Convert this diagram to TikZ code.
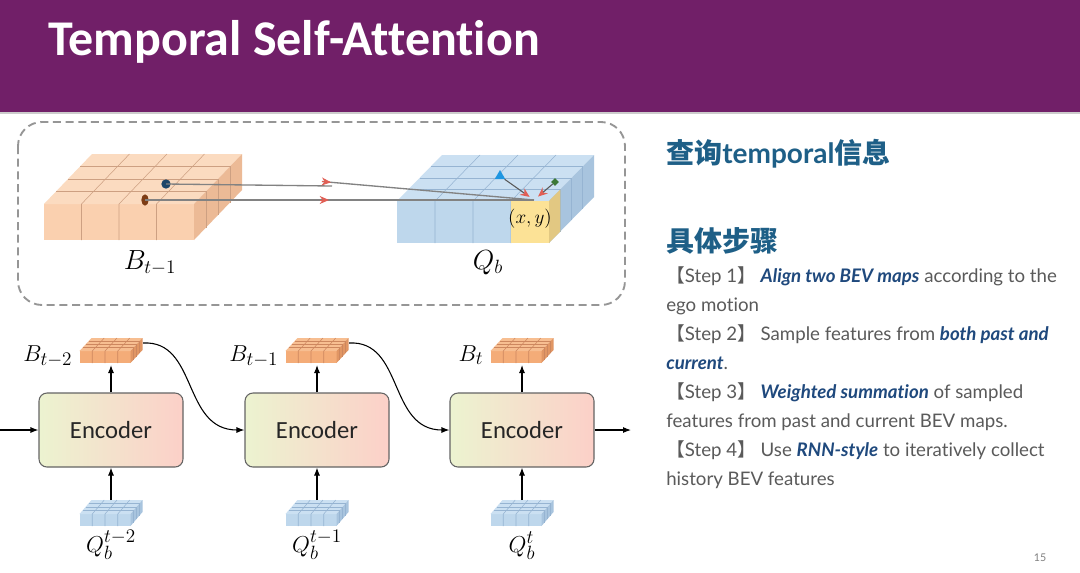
\documentclass[tikz,border=0pt]{standalone}
\usepackage{fontspec}
\setmainfont{Lato}[Ligatures={NoCommon}]
\newfontfamily\carlito{Carlito}[Ligatures={NoCommon}]
\newfontfamily\cjk{Noto Sans CJK SC}
\usetikzlibrary{arrows.meta,shapes.geometric,calc}

\definecolor{titlebar}{RGB}{113,31,104}
\definecolor{dashgray}{RGB}{150,150,150}
\definecolor{orfront}{RGB}{250,208,175}
\definecolor{ortop}{RGB}{251,219,192}
\definecolor{orside}{RGB}{236,186,150}
\definecolor{orgrid}{RGB}{205,160,130}
\definecolor{smfront}{RGB}{244,172,120}
\definecolor{smtop}{RGB}{247,190,145}
\definecolor{smside}{RGB}{225,150,100}
\definecolor{smgrid}{RGB}{205,135,95}
\definecolor{blfront}{RGB}{190,215,236}
\definecolor{bltop}{RGB}{203,224,242}
\definecolor{blside}{RGB}{168,196,222}
\definecolor{blgrid}{RGB}{150,180,210}
\definecolor{yfront}{RGB}{252,226,150}
\definecolor{yside}{RGB}{226,200,130}
\definecolor{encL}{RGB}{236,243,208}
\definecolor{encR}{RGB}{252,208,200}
\definecolor{encborder}{RGB}{100,100,100}
\definecolor{headc}{RGB}{30,95,135}
\definecolor{stepgray}{RGB}{90,90,90}
\definecolor{emphc}{RGB}{31,73,125}
\definecolor{sampgray}{RGB}{130,130,130}
\definecolor{arrowred}{RGB}{225,95,85}
\definecolor{dotblue}{RGB}{30,70,105}
\definecolor{dotbrown}{RGB}{125,60,20}
\definecolor{triblue}{RGB}{30,150,225}
\definecolor{dgreen}{RGB}{60,120,55}

% #1 x, #2 y of front bottom-left, #3 width, #4 height, #5 dx, #6 dy (depth)
\newcommand\bevbox[6]{%
  \fill[cfront] (#1,#2) rectangle ({#1+#3},{#2-#4});
  \fill[ctop] (#1,{#2-#4}) -- ++(#5,-#6) -- ++(#3,0) -- ++(-#5,#6) -- cycle;
  \fill[cside] ({#1+#3},#2) -- ({#1+#3},{#2-#4}) -- ++(#5,-#6) -- ++(0,#4) -- cycle;
  \foreach \i in {1,2,3}{\draw[cgrid,line width=0.4pt] ({#1+\i*#3/4},#2) -- ++(0,-#4) -- ++(#5,-#6);}
  \foreach \i in {1,2,3}{\draw[cgrid,line width=0.4pt] ({#1+\i*#5/4},{#2-#4-\i*#6/4}) -- ++(#3,0) -- ++(0,#4);}
}
\newcommand\setorange{\colorlet{cfront}{orfront}\colorlet{ctop}{ortop}\colorlet{cside}{orside}\colorlet{cgrid}{orgrid}}
\newcommand\setsmall{\colorlet{cfront}{smfront}\colorlet{ctop}{smtop}\colorlet{cside}{smside}\colorlet{cgrid}{smgrid}}
\newcommand\setblue{\colorlet{cfront}{blfront}\colorlet{ctop}{bltop}\colorlet{cside}{blside}\colorlet{cgrid}{blgrid}}
\newcommand\emphx[1]{{\color{emphc}\bfseries\itshape #1}}
\newcommand\lb{{\cjk【}}
\newcommand\rb{{\cjk】}}

\begin{document}
\begin{tikzpicture}[x=0.75pt,y=-0.75pt,
  dashbox/.style={draw=dashgray,line width=1.4pt,dash pattern=on 6pt off 3.5pt,rounded corners=18pt},
  encoderbox/.style={draw=encborder,line width=0.8pt,rounded corners=6pt,minimum width=108pt,minimum height=55.5pt,left color=encL,right color=encR,font=\carlito\fontsize{18.5}{20}\selectfont,text=black!85},
  arr/.style={line width=0.8pt,-{Latex[length=6pt,width=4.5pt]}},
  sample/.style={draw=sampgray,line width=1pt},
  redtip/.style={draw=arrowred,line width=0.6pt,-{Stealth[length=7pt,width=6pt,color=arrowred]}},
  toplabel/.style={font=\fontsize{21}{24}\selectfont,anchor=base},
  botlabel/.style={font=\fontsize{19}{22}\selectfont},
  stepline/.style={anchor=base west,font=\fontsize{14}{16}\selectfont,text=stepgray,inner sep=0pt},
  headline/.style={anchor=base west,font=\fontsize{21}{24}\selectfont\bfseries,text=headc,inner sep=0pt}]
\useasboundingbox (0,0) rectangle (1080,572);
\fill[white] (0,0) rectangle (1080,572);
% title bar
\fill[titlebar] (0,0) rectangle (1080,112);
\fill[black!20] (0,112) rectangle (1080,114);
\node[anchor=base west,text=white,inner sep=0pt,font=\carlito\bfseries\fontsize{37.5}{40}\selectfont] (title) at (48,55) {Temporal Self-Attention};

% dashed frame
\draw[dashbox] (18,122) rectangle (625,305);

% big cuboids
\setorange
\bevbox{44}{240}{150}{36}{48}{50}
\setblue
\bevbox{397}{243}{152}{42}{45}{46}
\fill[yfront] (511,243) rectangle (549,201);
\fill[yside] (549,243) -- (549,201) -- (560.25,189.5) -- (560.25,231.5) -- cycle;
\node[font=\fontsize{15}{17}\selectfont] (xylabel) at (530,219) {$(x,y)$};

\node[toplabel] (lbt1) at (150,269) {$B_{t-1}$};
\node[toplabel] (lqb) at (488,269) {$Q_b$};

% sampling
\node[circle,fill=dotblue,minimum size=7pt,inner sep=0pt] (bd) at (166,184) {};
\node[ellipse,fill=dotbrown,minimum width=5.5pt,minimum height=8.5pt,inner sep=0pt] (rd) at (145,200) {};
\coordinate (xy) at (534,200);
\coordinate (m1) at (332,186);
\coordinate (m1b) at (322,181.5);
\coordinate (m1t) at (331,182.3);
\coordinate (m2b) at (320,200);
\coordinate (m2t) at (329,200);
\draw[sample] (bd.center) -- (m1);
\draw[sample] (m1b) -- (xy);
\draw[sample] (rd.center) -- (xy);
\draw[redtip] (m1b) -- (m1t);
\draw[redtip] (m2b) -- (m2t);
\node[regular polygon,regular polygon sides=3,fill=triblue,minimum size=9pt,inner sep=0pt] (tri) at (500,176) {};
\node[diamond,fill=dgreen,minimum size=6pt,inner sep=0pt] (dia) at (555,182) {};
\draw[draw=black!65,line width=0.8pt,-{Stealth[length=7pt,width=6pt,color=arrowred]},shorten >=4pt] (tri) -- (xy);
\draw[draw=black!65,line width=0.8pt,-{Stealth[length=7pt,width=6pt,color=arrowred]},shorten >=4pt] (dia) -- (xy);

% encoders
\node[encoderbox] (enc1) at (111,430) {Encoder};
\node[encoderbox] (enc2) at (317,430) {Encoder};
\node[encoderbox] (enc3) at (522,430) {Encoder};

% small B cuboids
\setsmall
\bevbox{79.5}{363}{51}{12}{12}{13}
\bevbox{285.5}{363}{51}{12}{12}{13}
\bevbox{490.5}{363}{51}{12}{12}{13}
% small Q cuboids
\setblue
\bevbox{79.5}{526}{51}{12}{12}{14}
\bevbox{285.5}{526}{51}{12}{12}{14}
\bevbox{490.5}{526}{51}{12}{12}{14}

\coordinate (b2) at (111,365);
\coordinate (b1) at (317,365);
\coordinate (b0) at (522,365);
\coordinate (q2) at (111,500);
\coordinate (q1) at (317,500);
\coordinate (q0) at (522,500);
\coordinate (b2r) at (143,343);
\coordinate (b1r) at (349,343);
\coordinate (inp) at (0,430);
\coordinate (outp) at (631,430);

\draw[arr] (enc1.north) -- (b2);
\draw[arr] (enc2.north) -- (b1);
\draw[arr] (enc3.north) -- (b0);
\draw[arr] (q2) -- (enc1.south);
\draw[arr] (q1) -- (enc2.south);
\draw[arr] (q0) -- (enc3.south);
\draw[arr] (inp) -- (enc1.west);
\draw[arr] (enc3.east) -- (outp);
\draw[arr] (b2r) .. controls (198,340) and (182,430) .. (enc2.west);
\draw[arr] (b1r) .. controls (404,340) and (388,430) .. (enc3.west);

\node[botlabel,anchor=base east] (lb2) at (77,361) {$B_{t-2}$};
\node[botlabel,anchor=base east] (lb1) at (283,361) {$B_{t-1}$};
\node[botlabel,anchor=base east] (lb0) at (488,361) {$B_{t}$};
\node[botlabel,anchor=base] (lq2) at (111,552) {$Q_b^{t-2}$};
\node[botlabel,anchor=base] (lq1) at (317,552) {$Q_b^{t-1}$};
\node[botlabel,anchor=base] (lq0) at (522,552) {$Q_b^{t}$};

% right text
\node[headline] (h1) at (666,163) {{\cjk\bfseries 查询}temporal{\cjk\bfseries 信息}};
\node[headline] (h2) at (666,251) {{\cjk\bfseries 具体步骤}};
\node[stepline] (s1) at (666,282) {\lb Step 1\rb\ \emphx{Align two BEV maps} according to the};
\node[stepline] (s1b) at (666,311) {ego motion};
\node[stepline] (s2) at (666,340) {\lb Step 2\rb\ Sample features from \emphx{both past and}};
\node[stepline] (s2b) at (666,369) {\emphx{current}.};
\node[stepline] (s3) at (666,398) {\lb Step 3\rb\ \emphx{Weighted summation} of sampled};
\node[stepline] (s3b) at (666,427) {features from past and current BEV maps.};
\node[stepline] (s4) at (666,456) {\lb Step 4\rb\ Use \emphx{RNN-style} to iteratively collect};
\node[stepline] (s4b) at (666,485) {history BEV features};
\node[anchor=base,font=\fontsize{8}{9}\selectfont,text=black!50] (pg) at (1040,561) {15};
\end{tikzpicture}
\end{document}
